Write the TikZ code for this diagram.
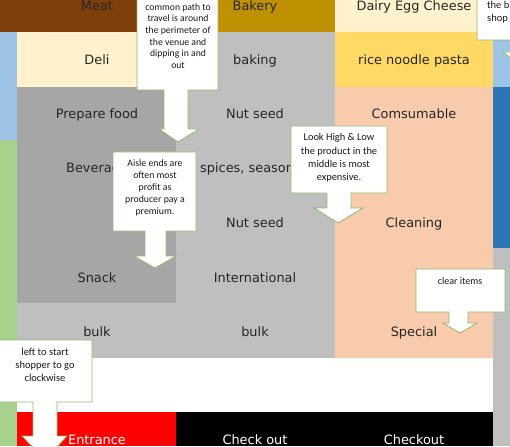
\documentclass[tikz,border=0pt]{standalone}
\usepackage{fontspec}
\setmainfont{DejaVu Sans}
\newfontfamily\notefont{Carlito}
\usetikzlibrary{positioning}

\definecolor{meatbrown}{HTML}{7F3F0B}
\definecolor{bakerygold}{HTML}{BF9000}
\definecolor{cream}{HTML}{FFF2CC}
\definecolor{pastagold}{HTML}{FFD966}
\definecolor{shelfgray}{HTML}{BFBFBF}
\definecolor{aislegray}{HTML}{A6A6A6}
\definecolor{salmon}{HTML}{F8CBAD}
\definecolor{skyblue}{HTML}{9DC3E6}
\definecolor{deepblue}{HTML}{2E75B6}
\definecolor{leafgreen}{HTML}{A9D18E}
\definecolor{noteline}{HTML}{93B86C}

\begin{document}
\begin{tikzpicture}[x=1pt,y=-1pt,
    lbl/.style={anchor=base,inner sep=0pt,text=black!85,font=\fontsize{12.9}{15}\selectfont},
    door/.style={lbl,text=white},
    note/.style={align=center,inner sep=0pt,text=black!90,font=\notefont\fontsize{9.8}{12}\selectfont},
    callout/.style={fill=white,draw=noteline,line width=0.8pt,line join=miter}
  ]
    \useasboundingbox (0,0) rectangle (510,446);
    \clip (0,0) rectangle (510,446);

    % Side strips
    \fill[skyblue] (0,32) rectangle (17,140);
    \fill[leafgreen] (0,140) rectangle (17,446);
    \fill[skyblue] (493,0) rectangle (510,87);
    \fill[deepblue] (493,87) rectangle (510,248);
    \fill[shelfgray] (493,248) rectangle (510,446);

    % Back wall
    \fill[meatbrown] (0,0) rectangle (176,32);
    \fill[bakerygold] (176,0) rectangle (335,32);
    \fill[cream] (335,0) rectangle (493,32);

    % Second row and aisles
    \fill[cream] (17,32) rectangle (176,87);
    \fill[shelfgray] (176,32) rectangle (335,358);
    \fill[pastagold] (335,32) rectangle (493,87);
    \fill[aislegray] (17,87) rectangle (176,303);
    \fill[shelfgray] (17,303) rectangle (176,358);
    \fill[salmon] (335,87) rectangle (493,358);

    % Front of store
    \fill[white] (17,358) rectangle (493,412);
    \fill[red] (17,412) rectangle (176,446);
    \fill[black] (176,412) rectangle (493,446);

    % Section labels
    \node[lbl] (meat) at (97,11) {Meat};
    \node[lbl] (bakery) at (255,11) {Bakery};
    \node[lbl] (dairy) at (414,11) {Dairy Egg Cheese};
    \node[lbl] (deli) at (97,65) {Deli};
    \node[lbl] (baking) at (255,65) {baking};
    \node[lbl] (pasta) at (414,65) {rice noodle pasta};
    \node[lbl] (prepared) at (97,119) {Prepare food};
    \node[lbl] (nuts) at (255,119) {Nut seed};
    \node[lbl] (consumable) at (414,119) {Comsumable};
    \node[lbl] (drinks) at (97,173) {Beverage};
    \node[lbl,anchor=base west] (spices) at (200,173) {spices, seasoning};
    \node[lbl] (nutsb) at (255,227) {Nut seed};
    \node[lbl] (cleaning) at (414,227) {Cleaning};
    \node[lbl] (snack) at (97,282) {Snack};
    \node[lbl] (intl) at (255,282) {International};
    \node[lbl] (bulka) at (97,336) {bulk};
    \node[lbl] (bulkb) at (255,336) {bulk};
    \node[lbl] (special) at (414,336) {Special};
    \node[door] (entrance) at (97,444) {Entrance};
    \node[door] (checka) at (255,444) {Check out};
    \node[door] (checkb) at (414,444) {Checkout};

    % Callouts
    \draw[callout] (137,-20) -- (218,-20) -- (218,90) -- (188,90) -- (188,129) -- (199,129)
      -- (178,142) -- (159,129) -- (164,129) -- (164,90) -- (137,90) -- cycle;
    \node[note,font=\notefont\fontsize{9.7}{11.6}\selectfont] (pathnote) at (178,36)
      {common path to\\travel is around\\the perimeter  of\\the venue and\\dipping in and\\out};

    \draw[callout] (113,152) -- (196,152) -- (196,231) -- (166,231) -- (166,256) -- (176,256)
      -- (155,268) -- (134,256) -- (145,256) -- (145,231) -- (113,231) -- cycle;
    \node[note] (aislenote) at (155,188) {Aisle ends are\\often most\\profit as\\producer pay a\\premium.};

    \draw[callout] (291,126) -- (387,126) -- (387,193) -- (351,193) -- (351,208) -- (363,208)
      -- (338,223) -- (314,208) -- (327,208) -- (327,193) -- (291,193) -- cycle;
    \node[note,font=\notefont\fontsize{10.4}{13.3}\selectfont] (shelfnote) at (339,158)
      {Look  High \& Low\\the product in the\\middle is most\\expensive.};

    \draw[callout] (416,269) -- (505,269) -- (505,312) -- (468,312) -- (468,323) -- (477,323)
      -- (460,333) -- (443,323) -- (449,323) -- (449,312) -- (416,312) -- cycle;
    \node[note,font=\notefont\fontsize{10}{12}\selectfont] (clearnote) at (460,281) {clear items};

    \draw[callout] (-5,340) -- (92,340) -- (92,402) -- (57,402) -- (57,436) -- (67,436)
      -- (45,460) -- (22,436) -- (33,436) -- (33,402) -- (-5,402) -- cycle;
    \node[note,font=\notefont\fontsize{10.5}{13}\selectfont] (startnote) at (45,365)
      {left to start\\shopper to go\\clockwise};

    \draw[callout] (477,-20) -- (560,-20) -- (560,40) -- (530,40) -- (530,52) -- (540,52)
      -- (521,66) -- (503,52) -- (512,52) -- (512,40) -- (477,40) -- cycle;
    \node[note,align=left,anchor=west,font=\notefont\fontsize{10.5}{13}\selectfont] (backnote) at (487,12.5)
      {the b\\shop};
  \end{tikzpicture}
\end{document}
